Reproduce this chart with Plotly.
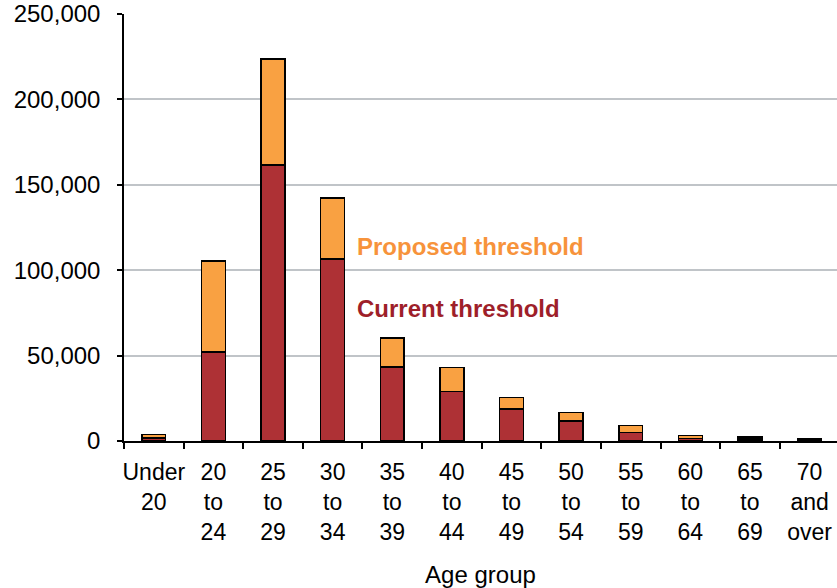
import plotly.graph_objects as go

categories = ["Under<br>20", "20<br>to<br>24", "25<br>to<br>29", "30<br>to<br>34", "35<br>to<br>39",
              "40<br>to<br>44", "45<br>to<br>49", "50<br>to<br>54", "55<br>to<br>59", "60<br>to<br>64",
              "65<br>to<br>69", "70<br>and<br>over"]
current = [1800, 52100, 161600, 106600, 43300, 29100, 18600, 11700, 4900, 1600, 1200, 800]
total = [3800, 105400, 223700, 142300, 60300, 42900, 25400, 16800, 9000, 3100, 2300, 1600]
additional = [t - c for t, c in zip(total, current)]

RED = "#AE3135"
ORANGE = "#F9A142"
FONT = "Liberation Sans, Arial, sans-serif"

fig = go.Figure()
fig.add_trace(go.Bar(x=categories, y=current, name="Current threshold",
                     marker=dict(color=RED, line=dict(color="black", width=1.5)), width=0.4))
fig.add_trace(go.Bar(x=categories, y=additional, name="Proposed threshold",
                     marker=dict(color=ORANGE, line=dict(color="black", width=1.5)), width=0.4))

fig.add_annotation(x=0.324, xref="paper", y=113600, yref="y", text="<b>Proposed threshold</b>",
                   showarrow=False, xanchor="left", yanchor="middle",
                   font=dict(family=FONT, size=24, color="#F7933B"))
fig.add_annotation(x=0.324, xref="paper", y=77300, yref="y", text="<b>Current threshold</b>",
                   showarrow=False, xanchor="left", yanchor="middle",
                   font=dict(family=FONT, size=24, color="#9E1F2A"))

fig.update_layout(
    barmode="stack",
    width=837, height=588,
    margin=dict(l=124, r=0, t=14, b=147),
    plot_bgcolor="white", paper_bgcolor="white",
    showlegend=False,
    font=dict(family=FONT, size=24, color="black"),
    bargap=0.6,
)
fig.update_xaxes(
    type="category",
    range=[-0.5, 11.46],
    automargin=False,
    tickangle=0,
    showline=True, linecolor="black", linewidth=1.5,
    ticks="outside", ticklen=6, tickcolor="black", tickwidth=1.5,
    tickson="boundaries",
    tickfont=dict(family=FONT, size=23, color="black"),
    ticklabelstandoff=10,
    title=dict(text="Age group", font=dict(family=FONT, size=24, color="black"), standoff=30),
    showgrid=False,
)
fig.update_yaxes(
    range=[0, 250000],
    automargin=False,
    tickvals=[0, 50000, 100000, 150000, 200000, 250000],
    tickformat=",d",
    showline=True, linecolor="black", linewidth=1.5,
    ticks="outside", ticklen=5, tickcolor="black", tickwidth=1.5,
    showgrid=True, gridcolor="#C0C4C8", gridwidth=1.5,
    tickfont=dict(family=FONT, size=24, color="black"),
    ticklabelstandoff=12,
    zeroline=False,
)

fig.write_html("out.html", config={"displayModeBar": False},
               post_script="document.body.style.margin='0';")
